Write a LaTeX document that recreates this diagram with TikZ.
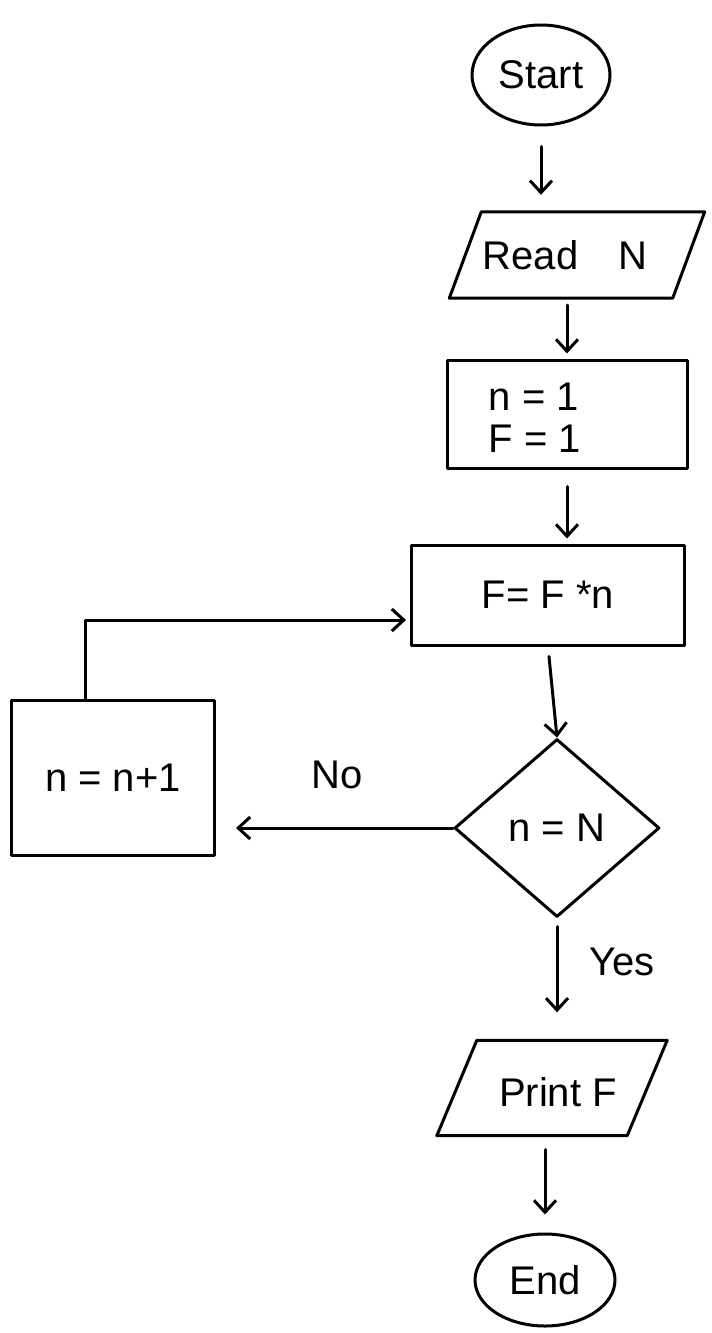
\documentclass[tikz,border=0pt]{standalone}
\usepackage{fontspec}
\setmainfont{Liberation Sans}
\usetikzlibrary{shapes.geometric,arrows.meta,calc}
\tikzset{
  ln/.style={line width=3pt, line cap=round, line join=round},
  txt/.style={font=\fontsize{40}{48}\selectfont},
  term/.style={ellipse, draw, ln, txt, inner sep=0pt},
  proc/.style={rectangle, draw, ln, txt, inner sep=0pt},
  iobox/.style={rectangle, draw=none, txt, inner sep=0pt},
  decide/.style={diamond, draw, ln, txt, inner sep=0pt, aspect=1.15},
  arr/.style={ln, -{Straight Barb[length=12pt,width=22pt,line width=3pt]}},
  lbl/.style={txt}
}
\begin{document}
\begin{tikzpicture}[x=1pt,y=-1pt]
\useasboundingbox (0,0) rectangle (712,1333);

% nodes
\node[term, minimum width=138pt, minimum height=100pt] (start) at (541,75) {Start};
\node[iobox, minimum width=255pt, minimum height=86pt] (read) at (577,255) {};
\node[txt] (readt) at (565,255) {Read\quad N};
\node[proc, minimum width=240pt, minimum height=108pt] (init) at (567,414) {};
\node[txt, align=left] (initt) at (535,418) {n = 1\\[-6pt]F = 1};
\node[proc, minimum width=273pt, minimum height=100pt] (fmul) at (548,595) {F= F *n};
\node[decide, minimum width=205pt, minimum height=178pt] (dec) at (557,828) {n = N};
\node[proc, minimum width=203pt, minimum height=155pt] (inc) at (113,778) {n = n+1};
\node[iobox, minimum width=230pt, minimum height=95pt] (print) at (552,1088) {};
\node[txt] (printt) at (558,1092) {Print F};
\node[term, minimum width=140pt, minimum height=92pt] (end) at (545,1280) {End};

% parallelogram outlines
\draw[ln] (read.south west) -- ([xshift=32pt]read.north west) -- (read.north east) -- ([xshift=-32pt]read.south east) -- cycle;
\draw[ln] (print.south west) -- ([xshift=40pt]print.north west) -- (print.north east) -- ([xshift=-40pt]print.south east) -- cycle;

% connectors
\draw[arr, shorten <=20pt, shorten >=17pt] (start.south) -- (start.south |- read.north);
\draw[arr, shorten <=7pt, shorten >=5pt] (init.north |- read.south) -- (init.north);
\draw[arr, shorten <=17pt, shorten >=5pt] (init.south) -- (init.south |- fmul.north);
\draw[arr, shorten <=10pt] (fmul.south) -- (dec.north);
\draw[arr, shorten >=20pt] (dec.west) -- (dec.west -| inc.east);
\node[lbl] (no) at (337,775) {No};
\draw[arr, shorten >=4pt] ([xshift=-28pt]inc.north) |- ($(fmul.west)+(0,25)$);
\draw[arr, shorten <=8pt, shorten >=28pt] (dec.south) -- (dec.south |- print.north);
\node[lbl] (yes) at (622,962) {Yes};
\draw[arr, shorten <=14pt, shorten >=18pt] (end.north |- print.south) -- (end.north);
\end{tikzpicture}
\end{document}
